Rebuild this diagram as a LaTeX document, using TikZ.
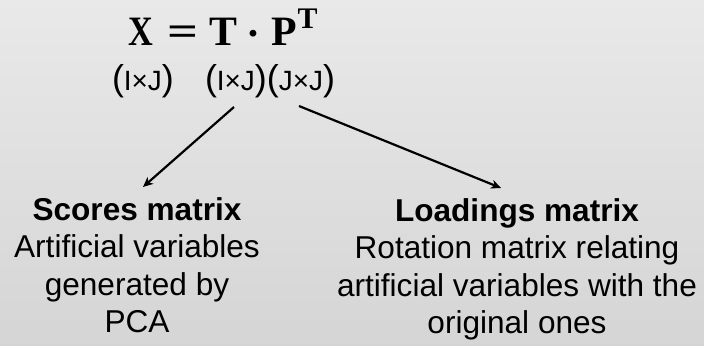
\documentclass[tikz,border=0pt]{standalone}
\usepackage{fontspec}
\setmainfont{Liberation Sans}
\newfontfamily\eqfont{Liberation Serif}
\usetikzlibrary{arrows.meta}
\definecolor{bgtop}{RGB}{233,233,233}
\definecolor{bgbot}{RGB}{213,213,213}
\tikzset{
  every node/.style={inner sep=0pt, outer sep=0pt},
  eqn/.style={anchor=base, font=\fontsize{42}{48}\selectfont\eqfont\bfseries},
  eqsup/.style={anchor=base, font=\fontsize{30}{34}\selectfont\eqfont\bfseries},
  dimtxt/.style={anchor=base west, font=\fontsize{28}{30}\selectfont},
  desctxt/.style={anchor=base, font=\fontsize{31.7}{37.7}\selectfont},
  arr/.style={line width=2.2bp, -{Stealth[length=10bp,width=9bp,inset=3bp]}},
}
\newcommand{\bparen}[1]{{\fontsize{36}{40}\selectfont #1}}
\begin{document}
\begin{tikzpicture}[x=1bp,y=-1bp]
\shade[top color=bgtop, bottom color=bgbot] (0,0) rectangle (704,345);
\useasboundingbox (0,0) rectangle (704,345);
\node[eqn] (eqX) at (141,45) {\scalebox{0.82}[1]{X}};
\node[eqn] (eqEq) at (182.5,45) {\scalebox{1.3}[1]{=}};
\node[eqn] (eqT) at (223.5,45) {T};
\node[eqn] (eqDot) at (253,47) {·};
\node[eqn] (eqP) at (284.5,45) {P};
\node[eqsup] (eqSup) at (307.5,28) {T};
\node[dimtxt] (dimX) at (112,90) {\bparen{(}I×J\bparen{)}};
\node[dimtxt] (dimT) at (205,90) {\bparen{(}I×J\bparen{)}};
\node[dimtxt] (dimP) at (dimT.base east) {\bparen{(}J×J\bparen{)}};
\coordinate (s1) at (234,107);
\coordinate (s2) at (299,106);
\coordinate (e1) at (143,187);
\coordinate (e2) at (501,188);
\node[desctxt] (scores) at (137,220) {\begin{tabular}[t]{@{}c@{}}\bfseries Scores matrix\\Artificial variables\\generated by\\PCA\end{tabular}};
\node[desctxt] (load) at (517,221) {\begin{tabular}[t]{@{}c@{}}\bfseries Loadings matrix\\Rotation matrix relating\\artificial variables with the\\original ones\end{tabular}};
\draw[arr] (s1) -- (e1);
\draw[arr] (s2) -- (e2);
\end{tikzpicture}
\end{document}
